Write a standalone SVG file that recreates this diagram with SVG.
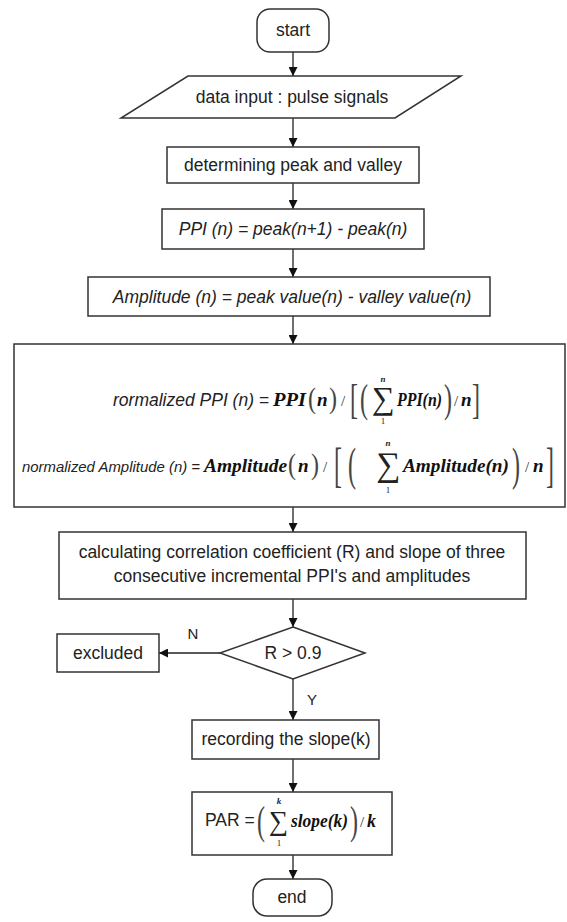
<svg xmlns="http://www.w3.org/2000/svg" width="567" height="922" viewBox="0 0 567 922">
<defs>
<marker id="arr" viewBox="0 0 10 10" refX="10" refY="5" markerWidth="9" markerHeight="9" markerUnits="userSpaceOnUse" orient="auto">
<path d="M0,0 L10,5 L0,10 z" fill="#111"/>
</marker>
<style>
.box{fill:#fff;stroke:#333;stroke-width:1.5}
.t{font-family:"Liberation Sans",Arial,sans-serif;font-size:17.5px;fill:#222;text-anchor:middle}
.ti{font-family:"Liberation Sans",Arial,sans-serif;font-size:17.5px;fill:#222;font-style:italic}
.lbl{font-family:"Liberation Sans",Arial,sans-serif;font-size:15px;fill:#222;text-anchor:middle}
.m{font-family:"Liberation Serif","Times New Roman",serif;font-weight:bold;font-style:italic;font-size:19px;fill:#111}
.r{font-family:"Liberation Serif","Times New Roman",serif;font-size:15px;fill:#333}
.big{font-family:"Liberation Serif","Times New Roman",serif;font-size:24px;fill:#444}
.sum{font-family:"Liberation Serif","DejaVu Serif",serif;font-size:32px;fill:#222}
.lim{font-family:"Liberation Serif","Times New Roman",serif;font-size:9px;fill:#222;text-anchor:middle}
.conn line{stroke:#222;stroke-width:1.3;marker-end:url(#arr)}
</style>
</defs>

<g id="connectors" class="conn">
<line x1="293" y1="52" x2="293" y2="76"/>
<line x1="293" y1="118" x2="293" y2="147"/>
<line x1="293" y1="183" x2="293" y2="209"/>
<line x1="293" y1="249" x2="293" y2="277"/>
<line x1="293" y1="316" x2="293" y2="344"/>
<line x1="293" y1="507" x2="293" y2="532"/>
<line x1="293" y1="599" x2="293" y2="627"/>
<line x1="220" y1="653" x2="159" y2="653"/>
<line x1="293" y1="679" x2="293" y2="720"/>
<line x1="293" y1="759" x2="293" y2="792"/>
<line x1="293" y1="855" x2="293" y2="879"/>
</g>

<g id="start">
<rect class="box" x="257" y="9" width="72" height="43" rx="13"/>
<text class="t" x="293" y="36">start</text>
</g>

<g id="input">
<polygon class="box" points="188,76 461,76 395,118 121,118"/>
<text class="t" x="292" y="103">data input : pulse signals</text>
</g>

<g id="peak">
<rect class="box" x="167" y="147" width="252" height="36"/>
<text class="t" x="293" y="171">determining peak and valley</text>
</g>

<g id="ppi">
<rect class="box" x="162" y="209" width="262" height="40"/>
<text class="ti" x="293" y="235" text-anchor="middle">PPI (n) = peak(n+1) - peak(n)</text>
</g>

<g id="amplitude">
<rect class="box" x="88" y="277" width="402" height="39"/>
<text class="ti" x="292" y="303" text-anchor="middle">Amplitude (n) = peak value(n) - valley value(n)</text>
</g>

<g id="normalize">
<rect class="box" x="14" y="344" width="551" height="163"/>
<!-- line 1 -->
<text class="ti" x="113" y="406">rormalized PPI (n) =</text>
<text class="m" x="273" y="406" textLength="33" lengthAdjust="spacingAndGlyphs">PPI</text>
<text class="big" transform="translate(308,408) scale(1,1.2)">(</text>
<text class="m" x="317" y="406">n</text>
<text class="big" transform="translate(329,408) scale(1,1.2)">)</text>
<text class="r" x="341" y="406">/</text>
<text class="big" transform="translate(350,413) scale(1,1.8)">[</text>
<text class="big" transform="translate(360,412) scale(1,1.65)">(</text>
<text class="sum" x="372" y="409">∑</text>
<text class="lim" x="383" y="382" font-weight="bold" font-style="italic">n</text>
<text class="lim" x="383" y="424">1</text>
<text class="m" x="397" y="406" textLength="45" lengthAdjust="spacingAndGlyphs">PPI(n)</text>
<text class="big" transform="translate(444,412) scale(1,1.65)">)</text>
<text class="r" x="454" y="406">/</text>
<text class="m" x="461" y="406">n</text>
<text class="big" transform="translate(472,413) scale(1,1.8)">]</text>
<!-- line 2 -->
<text class="ti" x="22" y="472" textLength="178" lengthAdjust="spacingAndGlyphs" style="font-size:15px">normalized Amplitude (n) =</text>
<text class="m" x="204" y="472" textLength="83" lengthAdjust="spacingAndGlyphs">Amplitude</text>
<text class="big" transform="translate(288,474) scale(1,1.2)">(</text>
<text class="m" x="298" y="472">n</text>
<text class="big" transform="translate(311,474) scale(1,1.2)">)</text>
<text class="r" x="323" y="472">/</text>
<text class="big" transform="translate(334,481) scale(1,2.05)">[</text>
<text class="big" transform="translate(348,480) scale(1,1.9)">(</text>
<text class="sum" x="376" y="476" style="font-size:34px">∑</text>
<text class="lim" x="388" y="446" font-weight="bold" font-style="italic">n</text>
<text class="lim" x="388" y="493">1</text>
<text class="m" x="403" y="472" textLength="106" lengthAdjust="spacingAndGlyphs">Amplitude(n)</text>
<text class="big" transform="translate(512,480) scale(1,1.9)">)</text>
<text class="r" x="525" y="472">/</text>
<text class="m" x="533" y="472">n</text>
<text class="big" transform="translate(546,481) scale(1,2.05)">]</text>
</g>

<g id="calc">
<rect class="box" x="59" y="532" width="467" height="67"/>
<text class="t" x="292" y="558">calculating correlation coefficient (R) and slope of three</text>
<text class="t" x="292" y="582">consecutive incremental PPI's and amplitudes</text>
</g>

<g id="decision">
<polygon class="box" points="293,627 365,653 293,679 220,653"/>
<text class="t" x="293" y="659">R &gt; 0.9</text>
</g>
<text class="lbl" x="193" y="639">N</text>
<text class="lbl" x="312" y="705">Y</text>

<g id="excluded">
<rect class="box" x="57" y="634" width="102" height="38"/>
<text class="t" x="108" y="659">excluded</text>
</g>

<g id="record">
<rect class="box" x="192" y="720" width="187" height="39"/>
<text class="t" x="286" y="745">recording the slope(k)</text>
</g>

<g id="par">
<rect class="box" x="192" y="792" width="200" height="63"/>
<text class="ti" x="205" y="826" style="font-style:normal">PAR =</text>
<text class="big" transform="translate(257,834) scale(1,1.65)">(</text>
<text class="sum" x="269" y="830" style="font-size:27px">∑</text>
<text class="lim" x="279" y="804" font-weight="bold" font-style="italic">k</text>
<text class="lim" x="279" y="846">1</text>
<text class="m" x="291" y="827" textLength="57" lengthAdjust="spacingAndGlyphs" style="font-size:18px">slope(k)</text>
<text class="big" transform="translate(350,834) scale(1,1.65)">)</text>
<text class="r" x="360" y="827">/</text>
<text class="m" x="367" y="827" style="font-size:18px">k</text>
</g>

<g id="end">
<rect class="box" x="253" y="879" width="79" height="37" rx="14"/>
<text class="t" x="292" y="903">end</text>
</g>
</svg>
